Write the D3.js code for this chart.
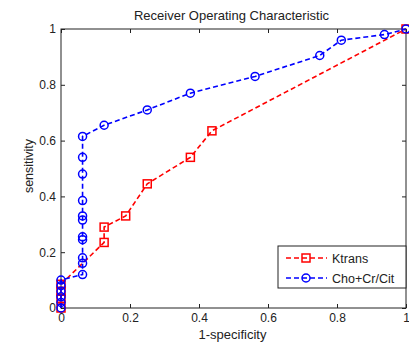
<!DOCTYPE html>
<html>
<head>
<meta charset="utf-8">
<script src="https://cdn.jsdelivr.net/npm/d3@7"></script>
<style>
  body { margin: 0; background: #fff; }
  text { font-family: "Liberation Sans", Arial, sans-serif; fill: #222; }
</style>
</head>
<body>
<div id="chart"></div>
<script>
// datos
const xTicks = [0, 0.2, 0.4, 0.6, 0.8, 1]
const yTicks = [0, 0.2, 0.4, 0.6, 0.8, 1]

const ktransFpr = [0, 0, 0, 0, 0.125, 0.125, 0.1875, 0.25, 0.375, 0.4375, 1]
const ktransTpr = [0, 0.035, 0.06, 0.085, 0.235, 0.29, 0.33, 0.445, 0.54, 0.635, 1]

const choFpr = [0, 0, 0, 0, 0, 0,
                0.0625, 0.0625, 0.0625, 0.0625, 0.0625, 0.0625, 0.0625, 0.0625, 0.0625, 0.0625, 0.0625,
                0.125, 0.25, 0.375, 0.5625, 0.75, 0.8125, 0.9375, 1]
const choTpr = [0, 0.02, 0.04, 0.06, 0.08, 0.1,
                0.12, 0.16, 0.18, 0.245, 0.255, 0.315, 0.33, 0.385, 0.48, 0.54, 0.615,
                0.655, 0.71, 0.77, 0.83, 0.905, 0.96, 0.98, 1]

const seriesNames = ["Ktrans", "Cho+Cr/Cit"]
const seriesColors = ["#ff0000", "#0000ff"]

// constantes
const width = 409
const height = 343
const margin = { top: 29, right: 3, bottom: 35, left: 61 }
const w = width - margin.left - margin.right
const h = height - margin.top - margin.bottom

const svg = d3.select("#chart").append("svg").attr("width", width).attr("height", height)
const g = svg.append("g").attr("transform", `translate(${margin.left},${margin.top})`)

const x = d3.scaleLinear().domain([0, 1]).range([0, w])
const y = d3.scaleLinear().domain([0, 1]).range([h, 0])

// ejes (ticks hacia dentro, estilo matlab)
const fmt = d => d === 0 || d === 1 ? d3.format("d")(d) : d3.format(".1f")(d)
const axisStyle = sel => {
  sel.select(".domain").remove()
  sel.selectAll("line").attr("stroke", "#222")
  sel.selectAll("text").attr("font-size", 12).attr("fill", "#222")
}
g.append("g").attr("transform", `translate(0,${h})`)
  .call(d3.axisBottom(x).tickValues(xTicks).tickSizeInner(-4).tickSizeOuter(0).tickPadding(5).tickFormat(fmt))
  .call(axisStyle)
g.append("g")
  .call(d3.axisLeft(y).tickValues(yTicks).tickSizeInner(-4).tickSizeOuter(0).tickPadding(5).tickFormat(fmt))
  .call(axisStyle)
g.append("g")
  .call(d3.axisTop(x).tickValues(xTicks).tickSizeInner(-4).tickSizeOuter(0).tickFormat(""))
  .call(axisStyle)
g.append("g").attr("transform", `translate(${w},0)`)
  .call(d3.axisRight(y).tickValues(yTicks).tickSizeInner(-4).tickSizeOuter(0).tickFormat(""))
  .call(axisStyle)
g.append("rect").attr("width", w).attr("height", h)
  .attr("fill", "none").attr("stroke", "#222").attr("stroke-width", 1)

// lineas
const line = d3.line().x(d => x(d[0])).y(d => y(d[1]))
const ktrans = ktransFpr.map((v, i) => [v, ktransTpr[i]])
const cho = choFpr.map((v, i) => [v, choTpr[i]])

g.append("path").datum(ktrans).attr("d", line)
  .attr("fill", "none").attr("stroke", seriesColors[0]).attr("stroke-width", 1.6).attr("stroke-dasharray", "5,3")
g.selectAll(".sq").data(ktrans).enter().append("rect")
  .attr("class", "sq")
  .attr("x", d => x(d[0]) - 4).attr("y", d => y(d[1]) - 4)
  .attr("width", 8).attr("height", 8)
  .attr("fill", "none").attr("stroke", seriesColors[0]).attr("stroke-width", 1.5)

g.append("path").datum(cho).attr("d", line)
  .attr("fill", "none").attr("stroke", seriesColors[1]).attr("stroke-width", 1.6).attr("stroke-dasharray", "5,3")
g.selectAll(".ci").data(cho).enter().append("circle")
  .attr("class", "ci")
  .attr("cx", d => x(d[0])).attr("cy", d => y(d[1])).attr("r", 4)
  .attr("fill", "none").attr("stroke", seriesColors[1]).attr("stroke-width", 1.5)

// textos
svg.append("text").attr("x", margin.left + w / 2 - 2).attr("y", 20)
  .attr("text-anchor", "middle").attr("font-size", 13).text("Receiver Operating Characteristic")
svg.append("text").attr("x", margin.left + w / 2 - 1).attr("y", 339)
  .attr("text-anchor", "middle").attr("font-size", 13).text("1-specificity")
svg.append("text").attr("transform", `translate(33,166) rotate(-90)`)
  .attr("text-anchor", "middle").attr("font-size", 12.5).text("sensitivity")

// leyenda
const legend = svg.append("g").attr("transform", "translate(278,246)")
legend.append("rect").attr("width", 128).attr("height", 42)
  .attr("fill", "#fff").attr("stroke", "#222").attr("stroke-width", 1)
seriesNames.forEach((name, i) => {
  const row = legend.append("g").attr("transform", `translate(0,${12 + i * 20})`)
  row.append("line").attr("x1", 8).attr("x2", 49).attr("y1", 0).attr("y2", 0)
    .attr("stroke", seriesColors[i]).attr("stroke-width", 1.6).attr("stroke-dasharray", "5,3")
  if (i === 0) {
    row.append("rect").attr("x", 24).attr("y", -4).attr("width", 8).attr("height", 8)
      .attr("fill", "none").attr("stroke", seriesColors[i]).attr("stroke-width", 1.5)
  } else {
    row.append("circle").attr("cx", 28).attr("cy", 0).attr("r", 4)
      .attr("fill", "none").attr("stroke", seriesColors[i]).attr("stroke-width", 1.5)
  }
  row.append("text").attr("x", 54).attr("y", 4.5).attr("font-size", 12.5).text(name)
})
</script>
</body>
</html>
